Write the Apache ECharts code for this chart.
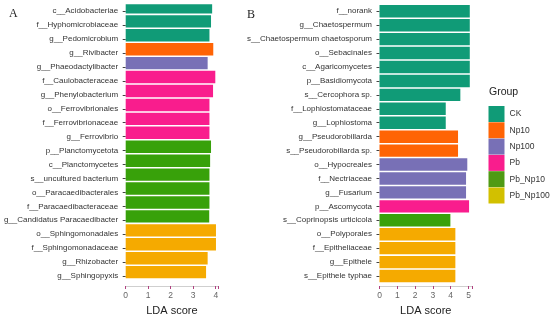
<!DOCTYPE html>
<html><head><meta charset="utf-8">
<script src="https://cdn.jsdelivr.net/npm/echarts@6/dist/echarts.min.js"></script>
<style>html,body{margin:0;padding:0;background:#fff}#c{width:550px;height:321px}</style>
</head><body><div id="c"></div>
<script>
const groups = ['CK','Np10','Np100','Pb','Pb_Np10','Pb_Np100'];
const groupColors = ['#109b77','#ff6405','#7870b6','#f91d8d','#38a10a','#f5aa00'];
const legendColors = ['#109b77','#ff6405','#7870b6','#f91d8d','#4f9a14','#d2c000'];

const leftLabels = ['c__Acidobacteriae','f__Hyphomicrobiaceae','g__Pedomicrobium','g__Rivibacter','g__Phaeodactylibacter','f__Caulobacteraceae','g__Phenylobacterium','o__Ferrovibrionales','f__Ferrovibrionaceae','g__Ferrovibrio','p__Planctomycetota','c__Planctomycetes','s__uncultured bacterium','o__Paracaedibacterales','f__Paracaedibacteraceae','g__Candidatus Paracaedibacter','o__Sphingomonadales','f__Sphingomonadaceae','g__Rhizobacter','g__Sphingopyxis'];
const leftValues = [3.84,3.79,3.72,3.89,3.64,3.98,3.88,3.72,3.72,3.72,3.79,3.75,3.72,3.72,3.72,3.71,4.01,4.01,3.64,3.57];
const leftGroups = ['CK','CK','CK','Np10','Np100','Pb','Pb','Pb','Pb','Pb','Pb_Np10','Pb_Np10','Pb_Np10','Pb_Np10','Pb_Np10','Pb_Np10','Pb_Np100','Pb_Np100','Pb_Np100','Pb_Np100'];

const rightLabels = ['f__norank','g__Chaetospermum','s__Chaetospermum chaetosporum','o__Sebacinales','c__Agaricomycetes','p__Basidiomycota','s__Cercophora sp.','f__Lophiostomataceae','g__Lophiostoma','g__Pseudorobillarda','s__Pseudorobillarda sp.','o__Hypocreales','f__Nectriaceae','g__Fusarium','p__Ascomycota','s__Coprinopsis urticicola','o__Polyporales','f__Epitheliaceae','g__Epithele','s__Epithele typhae'];
const rightValues = [5.07,5.07,5.07,5.07,5.07,5.07,4.54,3.72,3.72,4.41,4.41,4.93,4.86,4.86,5.03,3.98,4.26,4.26,4.26,4.26];
const rightGroups = ['CK','CK','CK','CK','CK','CK','CK','CK','CK','Np10','Np10','Np100','Np100','Np100','Pb','Pb_Np10','Pb_Np100','Pb_Np100','Pb_Np100','Pb_Np100'];

const ticks = [0,1,2,3,4,5];

function colorOf(g){ return groupColors[groups.indexOf(g)]; }
function mkData(vals, grps){ return vals.map((v,i)=>({value:v, itemStyle:{color:colorOf(grps[i])}})); }

const chart = echarts.init(document.getElementById('c'));
const tickFmt = v => ticks.includes(v) ? String(v) : '';
const xAxisCommon = {
  type:'value', min:0, interval:1, offset:3,
  axisLine:{show:true, lineStyle:{color:'#cfcfcf', width:1}},
  axisTick:{show:true, length:3, lineStyle:{color:'#b04080'}},
  axisLabel:{fontSize:8.5, color:'#666', margin:5, fontFamily:'Liberation Sans', formatter:tickFmt},
  splitLine:{show:false},
  name:'LDA score', nameLocation:'middle', nameGap:19,
  nameTextStyle:{fontSize:11, color:'#222', fontFamily:'Liberation Sans'}
};
const yAxisCommon = {
  type:'category', inverse:true, offset:2,
  axisLine:{show:false},
  axisTick:{show:true, length:3, alignWithLabel:true, lineStyle:{color:'#444'}},
  axisLabel:{fontSize:8, color:'#333', margin:5.5, fontFamily:'Liberation Sans', interval:0}
};

const legendSeries = groups.map((g,i)=>({
  name:g, type:'bar', xAxisIndex:0, yAxisIndex:0, data:[], itemStyle:{color:legendColors[i]}
}));

chart.setOption({
  animation:false,
  backgroundColor:'#fff',
  grid:[
    {left:125.7, top:4.3, width:92.3, height:286, containLabel:false},
    {left:379.5, top:4.3, width:92.6, height:286, containLabel:false}
  ],
  xAxis:[
    Object.assign({}, xAxisCommon, {gridIndex:0, max:4.1}),
    Object.assign({}, xAxisCommon, {gridIndex:1, max:5.2})
  ],
  yAxis:[
    Object.assign({}, yAxisCommon, {gridIndex:0, data:leftLabels}),
    Object.assign({}, yAxisCommon, {gridIndex:1, data:rightLabels})
  ],
  legend:{
    orient:'vertical', left:488.5, top:106, padding:0, itemWidth:16, itemHeight:16, itemGap:0.3,
    icon:'rect', data:groups,
    textStyle:{fontSize:8.5, color:'#333', fontFamily:'Liberation Sans'},
    selectedMode:false
  },
  graphic:[
    {type:'text', left:9, top:8, style:{text:'A', fontSize:12, fontFamily:'Liberation Serif', fill:'#222'}},
    {type:'text', left:247, top:9, style:{text:'B', fontSize:12, fontFamily:'Liberation Serif', fill:'#222'}},
    {type:'text', left:489, top:87, style:{text:'Group', fontSize:10.5, fontFamily:'Liberation Sans', fill:'#222'}}
  ],
  series:[
    {type:'bar', xAxisIndex:0, yAxisIndex:0, barWidth:12.4, data:mkData(leftValues,leftGroups)},
    {type:'bar', xAxisIndex:1, yAxisIndex:1, barWidth:12.4, data:mkData(rightValues,rightGroups)}
  ].concat(legendSeries)
});
</script></body></html>
